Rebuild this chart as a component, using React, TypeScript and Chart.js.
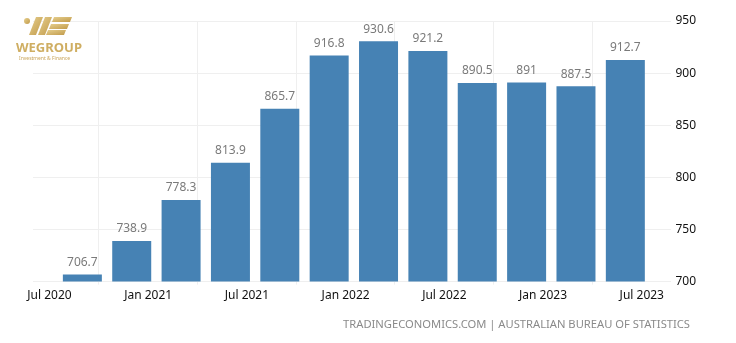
import React, { useEffect, useRef } from "react";
import { Chart, registerables } from "chart.js";

Chart.register(...registerables);

// Months since Jul 2020 for each quarter-end observation (Sep 2020 ... Jun 2023)
const quarterMonths = [2, 5, 8, 11, 14, 17, 20, 23, 26, 29, 32, 35];
const values = [706.7, 738.9, 778.3, 813.9, 865.7, 916.8, 930.6, 921.2, 890.5, 891, 887.5, 912.7];
const valueLabels = ["706.7", "738.9", "778.3", "813.9", "865.7", "916.8", "930.6", "921.2", "890.5", "891", "887.5", "912.7"];
const tickMonths = [0, 6, 12, 18, 24, 30, 36];
const tickLabels = ["Jul 2020", "Jan 2021", "Jul 2021", "Jan 2022", "Jul 2022", "Jan 2023", "Jul 2023"];
const yTicks = [700, 750, 800, 850, 900, 950];

const FONT = "'Noto Sans', 'DejaVu Sans', sans-serif";

const valueLabelPlugin = {
  id: "valueLabels",
  afterDatasetsDraw(chart: any) {
    const ctx = chart.ctx;
    const meta = chart.getDatasetMeta(0);
    ctx.save();
    ctx.font = `12px ${FONT}`;
    ctx.fillStyle = "#7a7a7a";
    ctx.textAlign = "center";
    ctx.textBaseline = "middle";
    meta.data.forEach((bar: any, i: number) => {
      ctx.fillText(valueLabels[i], bar.x, bar.y - 12);
    });
    ctx.restore();
  },
};

function Logo() {
  return (
    <div style={{ position: "absolute", left: 14, top: 14, width: 70, height: 50 }}>
      <svg width="70" height="24" viewBox="0 0 70 24" style={{ position: "absolute", left: 0, top: 0 }}>
        <defs>
          <linearGradient id="gold" x1="0" y1="0" x2="1" y2="1">
            <stop offset="0" stopColor="#e6cf8e" />
            <stop offset="1" stopColor="#c19a4a" />
          </linearGradient>
        </defs>
        <circle cx="13" cy="7" r="3" fill="url(#gold)" />
        <polygon points="22,3 29,3 22,21 15,21" fill="url(#gold)" />
        <polygon points="31,3 38,3 31,21 24,21" fill="url(#gold)" />
        <polygon points="40,3 58,3 56,8 38,8" fill="url(#gold)" />
        <polygon points="37,10 55,10 53,15 35,15" fill="url(#gold)" />
        <polygon points="34,16 52,16 50,21 32,21" fill="url(#gold)" />
      </svg>
      <div
        style={{
          position: "absolute",
          left: 2,
          top: 24,
          fontFamily: FONT,
          fontWeight: 700,
          fontSize: 13,
          color: "#cfae62",
          whiteSpace: "nowrap",
        }}
      >
        WEGROUP
      </div>
      <div
        style={{
          position: "absolute",
          left: 5,
          top: 41,
          fontFamily: FONT,
          fontSize: 5,
          color: "#c9a55a",
          whiteSpace: "nowrap",
        }}
      >
        Investment &amp; Finance
      </div>
    </div>
  );
}

export default function App() {
  const canvasRef = useRef<HTMLCanvasElement | null>(null);

  useEffect(() => {
    if (!canvasRef.current) return;
    const chart = new Chart(canvasRef.current, {
      type: "bar",
      data: {
        datasets: [
          {
            data: quarterMonths.map((m, i) => ({ x: m, y: values[i] })),
            backgroundColor: "#4682b4",
            borderWidth: 0,
            categoryPercentage: 1,
            barPercentage: 0.79,
          },
        ],
      },
      options: {
        responsive: false,
        animation: false,
        maintainAspectRatio: false,
        layout: { padding: { left: 33, right: 36, top: 21, bottom: 36 } },
        plugins: { legend: { display: false }, tooltip: { enabled: false } },
        scales: {
          x: {
            type: "linear",
            offset: false,
            min: -1,
            max: 37.8,
            afterBuildTicks(scale: any) {
              scale.ticks = tickMonths.map((v) => ({ value: v }));
            },
            ticks: {
              autoSkip: false,
              maxRotation: 0,
              padding: 4,
              color: "#111",
              font: { family: FONT, size: 12 },
              callback: (v: any) => {
                const idx = tickMonths.indexOf(Number(v));
                return idx >= 0 ? tickLabels[idx] : "";
              },
            },
            grid: { color: "#efefef", drawTicks: true, tickLength: 3 },
            border: { display: false },
          },
          y: {
            position: "right",
            min: 700,
            max: 950,
            afterBuildTicks(scale: any) {
              scale.ticks = yTicks.map((v) => ({ value: v }));
            },
            ticks: {
              padding: 4,
              color: "#111",
              font: { family: FONT, size: 12 },
            },
            grid: { color: "#efefef", drawTicks: false },
            border: { display: false },
          },
        },
      },
      plugins: [valueLabelPlugin],
    });
    return () => chart.destroy();
  }, []);

  return (
    <div style={{ position: "fixed", left: 0, top: 0, width: 736, height: 343, background: "#fff" }}>
      <canvas ref={canvasRef} width={736} height={343} style={{ position: "absolute", left: 0, top: 0 }} />
      <Logo />
      <div
        style={{
          position: "absolute",
          right: 46,
          top: 316,
          fontFamily: FONT,
          fontSize: 11.2,
          color: "#8a8a8a",
          whiteSpace: "nowrap",
        }}
      >
        TRADINGECONOMICS.COM | AUSTRALIAN BUREAU OF STATISTICS
      </div>
    </div>
  );
}
